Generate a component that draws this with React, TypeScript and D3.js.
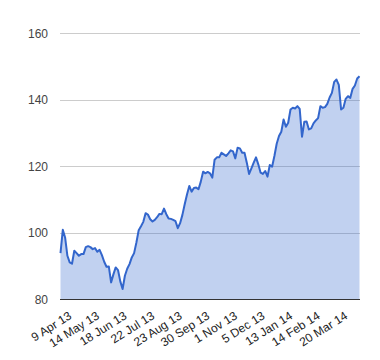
import React, { useRef, useEffect } from 'react';
import { select, scaleLinear, area, line, curveLinear } from 'd3';

// every other trading day, 9 Apr 13 onwards
const values = [
  93.8, 100.8, 98.5, 93.0, 91.0, 90.6, 94.5, 93.8, 93.0, 93.5,
  93.5, 95.6, 95.9, 95.6, 95.0, 95.3, 94.2, 94.8, 93.2, 91.2,
  89.7, 89.8, 85.0, 87.4, 89.5, 88.7, 85.3, 83.0, 87.0, 89.1,
  90.5, 92.5, 93.8, 97.0, 100.7, 101.9, 103.2, 105.8, 105.4, 104.0,
  103.3, 103.8, 104.6, 105.6, 105.5, 107.2, 105.5, 104.2, 104.1, 103.8,
  103.4, 101.3, 102.8, 105.3, 108.5, 111.4, 114.0, 112.3, 113.4, 113.5,
  113.0, 115.3, 118.3, 117.8, 118.2, 117.8, 116.5, 121.9, 122.6, 122.6,
  124.0, 123.5, 123.0, 123.8, 124.7, 124.4, 122.3, 125.5, 125.3, 124.0,
  124.0, 121.0, 117.6, 119.3, 121.0, 122.6, 120.5, 118.0, 117.6, 118.5,
  116.8, 120.3, 119.8, 123.0, 126.7, 129.0, 130.3, 134.0, 131.8, 133.0,
  137.0, 137.5, 137.3, 138.0, 137.2, 128.8, 133.3, 133.4, 131.0, 131.3,
  132.8, 133.7, 134.4, 138.0, 137.5, 137.7, 138.7, 140.6, 142.0, 145.3,
  146.0, 144.4, 137.0, 137.5, 140.2, 141.0, 140.5, 143.2, 144.2, 146.3,
  147.0,
];

const xLabels = [
  '9 Apr 13', '14 May 13', '18 Jun 13', '22 Jul 13', '23 Aug 13', '30 Sep 13',
  '1 Nov 13', '5 Dec 13', '13 Jan 14', '14 Feb 14', '20 Mar 14',
];
const labelStep = 12;

const yTicks = [80, 100, 120, 140, 160];

const W = 380;
const H = 360;
const FONT = 'Arial, "Liberation Sans", sans-serif';

const AreaChart = () => {
  const svgRef = useRef(null);

  useEffect(() => {
    const svg = select(svgRef.current);
    svg.selectAll('*').remove();

    const xScale = scaleLinear()
      .domain([0, values.length - 1])
      .range([60.5, 359.5]);
    const yScale = scaleLinear().domain([80, 160]).range([299, 33]);

    // gridlines
    svg
      .append('g')
      .selectAll('line')
      .data(yTicks.slice(1))
      .join('line')
      .attr('x1', 60)
      .attr('x2', 360)
      .attr('y1', (d) => Math.round(yScale(d)) + 0.5)
      .attr('y2', (d) => Math.round(yScale(d)) + 0.5)
      .attr('stroke', '#cccccc')
      .attr('stroke-width', 1);

    const areaGen = area()
      .x((d, i) => xScale(i))
      .y0(yScale(80))
      .y1((d) => yScale(d))
      .curve(curveLinear);
    svg
      .append('path')
      .datum(values)
      .attr('d', areaGen)
      .attr('fill', '#3366cc')
      .attr('fill-opacity', 0.3);

    const lineGen = line()
      .x((d, i) => xScale(i))
      .y((d) => yScale(d));
    svg
      .append('path')
      .datum(values)
      .attr('d', lineGen)
      .attr('fill', 'none')
      .attr('stroke', '#3366cc')
      .attr('stroke-width', 2)
      .attr('stroke-linejoin', 'round');

    // baseline
    svg
      .append('line')
      .attr('x1', 60)
      .attr('x2', 360)
      .attr('y1', Math.round(yScale(80)) + 0.5)
      .attr('y2', Math.round(yScale(80)) + 0.5)
      .attr('stroke', '#333333')
      .attr('stroke-width', 1);

    // y labels
    svg
      .append('g')
      .selectAll('text')
      .data(yTicks)
      .join('text')
      .attr('x', 48)
      .attr('y', (d) => yScale(d) + 4.5)
      .attr('text-anchor', 'end')
      .attr('font-family', FONT)
      .attr('font-size', 12)
      .attr('fill', '#444444')
      .text((d) => d);

    // slanted x labels
    svg
      .append('g')
      .selectAll('text')
      .data(xLabels)
      .join('text')
      .attr('transform', (d, i) => {
        const x = xScale(i * labelStep) + 12;
        return `translate(${x},318) rotate(-32)`;
      })
      .attr('text-anchor', 'end')
      .attr('font-family', FONT)
      .attr('font-size', 12)
      .attr('fill', '#222222')
      .text((d) => d);
  }, []);

  return <svg ref={svgRef} width={W} height={H} style={{ display: 'block' }} />;
};

export default function App() {
  return (
    <div style={{ position: 'absolute', left: 0, top: 0, background: '#fff' }}>
      <AreaChart />
    </div>
  );
}
